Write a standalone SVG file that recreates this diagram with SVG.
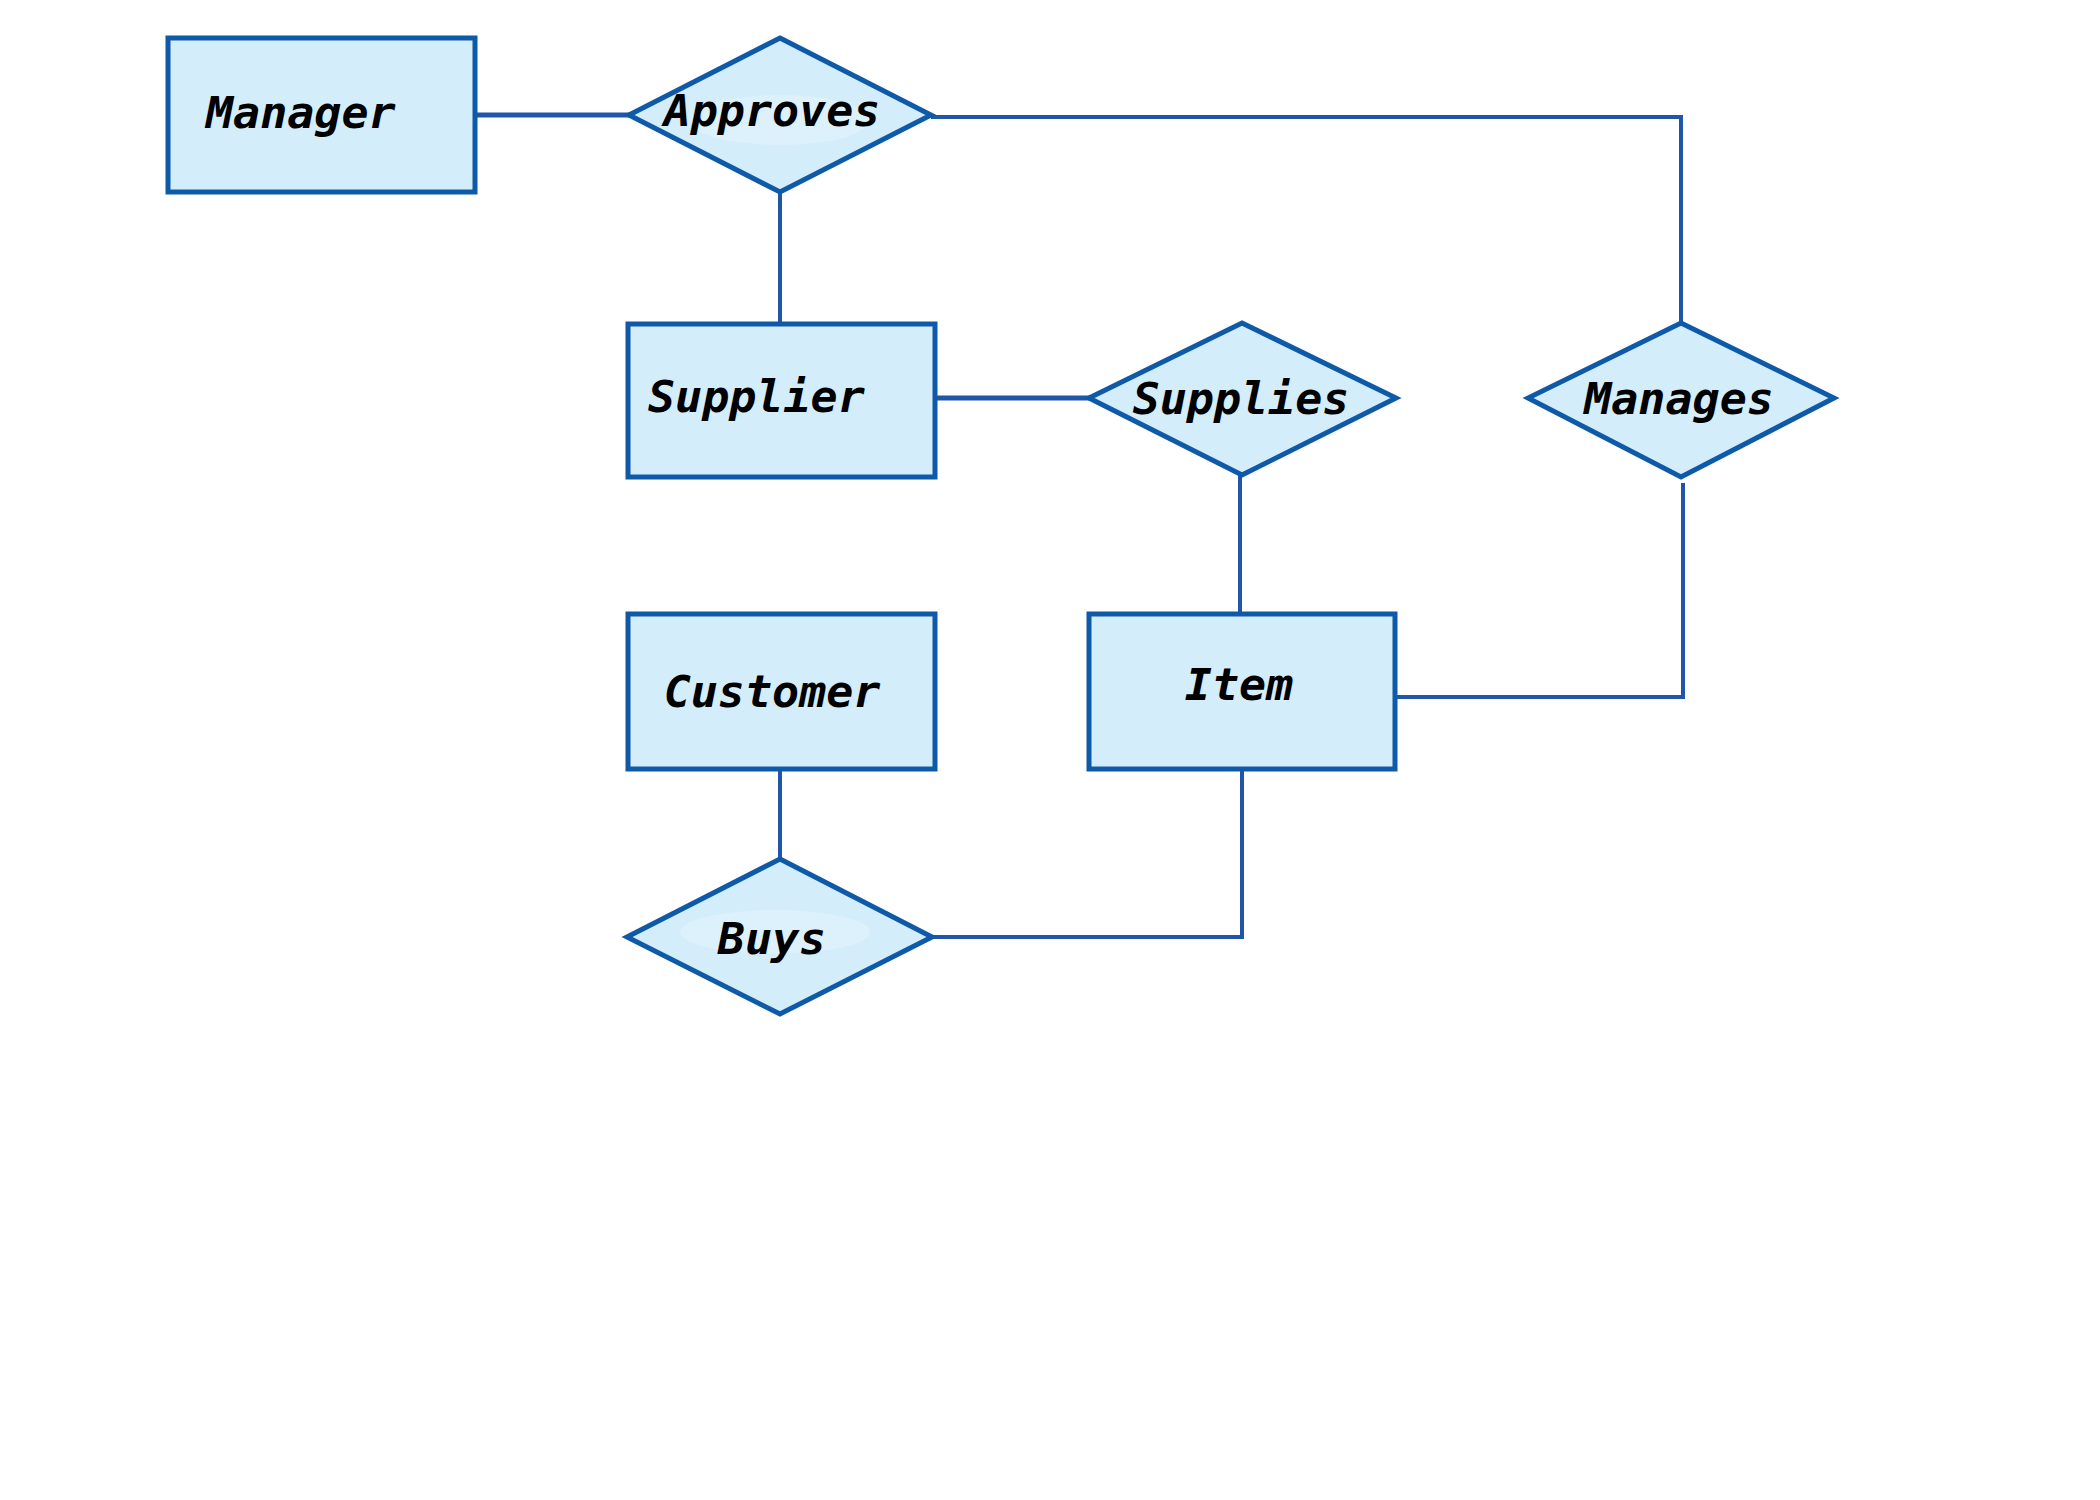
<svg xmlns="http://www.w3.org/2000/svg" width="2100" height="1500" viewBox="0 0 2100 1500">
<style>
.ent{fill:#d3edfb;stroke:#0f5aa8;stroke-width:5}
.rel{fill:#d3edfb;stroke:#0f5aa8;stroke-width:5;stroke-linejoin:miter}
.gl{fill:#e4f4fd;opacity:0.6}
.lbl{font-family:"DejaVu Sans Mono",monospace;font-weight:bold;font-style:italic;font-size:45px;fill:#000}
.con{fill:none;stroke:#2056a8;stroke-width:4}
.conT{fill:none;stroke:#2056a8;stroke-width:5}
</style>
<rect width="2100" height="1500" fill="#fff"/>
<g id="connectors">
<line class="conT" x1="475" y1="115" x2="629" y2="115"/>
<polyline class="con" points="931,117 1681,117 1681,322"/>
<line class="con" x1="780" y1="192" x2="780" y2="322"/>
<line class="conT" x1="936" y1="398" x2="1089" y2="398"/>
<line class="con" x1="1240" y1="475" x2="1240" y2="612"/>
<polyline class="con" points="1683,483 1683,697 1395,697"/>
<line class="con" x1="780" y1="770" x2="780" y2="858"/>
<polyline class="con" points="933,937 1242,937 1242,770"/>
</g>
<g id="manager">
<rect class="ent" x="168" y="38" width="307" height="154"/>
<text class="lbl" x="206" y="128">Manager</text>
</g>
<g id="approves">
<polygon class="rel" points="780,38 931,115 780,192 629,115"/>
<ellipse class="gl" cx="780" cy="120" rx="90" ry="25"/>
<text class="lbl" x="772" y="126" text-anchor="middle">Approves</text>
</g>
<g id="supplier">
<rect class="ent" x="628" y="324" width="307" height="153"/>
<text class="lbl" x="648" y="412">Supplier</text>
</g>
<g id="supplies">
<polygon class="rel" points="1242,323 1396,398 1242,475 1089,398"/>
<text class="lbl" x="1241" y="414" text-anchor="middle">Supplies</text>
</g>
<g id="manages">
<polygon class="rel" points="1681,323 1834,398 1681,477 1528,398"/>
<text class="lbl" x="1679" y="414" text-anchor="middle">Manages</text>
</g>
<g id="customer">
<rect class="ent" x="628" y="614" width="307" height="155"/>
<text class="lbl" x="772" y="707" text-anchor="middle">Customer</text>
</g>
<g id="item">
<rect class="ent" x="1089" y="614" width="306" height="155"/>
<text class="lbl" x="1239" y="700" text-anchor="middle">Item</text>
</g>
<g id="buys">
<polygon class="rel" points="780,859 932,937 780,1014 627,937"/>
<ellipse class="gl" cx="775" cy="932" rx="95" ry="22"/>
<text class="lbl" x="772" y="954" text-anchor="middle">Buys</text>
</g>
</svg>
